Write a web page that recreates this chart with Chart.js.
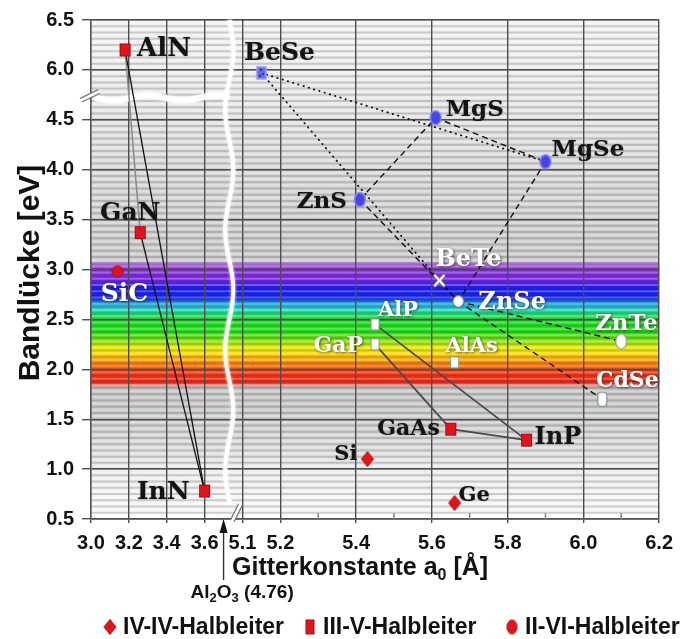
<!DOCTYPE html>
<html>
<head>
<meta charset="utf-8">
<title>Bandlücke vs. Gitterkonstante</title>
<script src="https://cdn.jsdelivr.net/npm/chart.js@4.4.1/dist/chart.umd.min.js"></script>
<style>
  body { margin: 0; background: #fff; }
</style>
</head>
<body>
<canvas id="gapChart" width="681" height="639"></canvas>
<script>
// values (lattice constant in Angstrom, band gap in eV)
const ivNames = ["SiC", "Si", "Ge"];
const ivLattice = [3.14, 5.43, 5.66];
const ivGap = [2.98, 1.10, 0.66];

const iiiVNames = ["AlN", "GaN", "InN", "AlP", "GaP", "AlAs", "GaAs", "InP"];
const iiiVLattice = [3.18, 3.26, 3.60, 5.45, 5.45, 5.66, 5.65, 5.85];
const iiiVGap = [6.20, 3.37, 0.78, 2.45, 2.25, 2.07, 1.40, 1.29];

const iiViNames = ["BeSe", "MgS", "MgSe", "ZnS", "BeTe", "ZnSe", "ZnTe", "CdSe"];
const iiViLattice = [5.15, 5.61, 5.90, 5.41, 5.62, 5.67, 6.10, 6.05];
const iiViGap = [5.97, 4.52, 4.08, 3.70, 2.89, 2.68, 2.28, 1.70];

const groupLabels = ["IV-IV-Halbleiter", "III-V-Halbleiter", "II-VI-Halbleiter"];

const xTickValues = [3.0, 3.2, 3.4, 3.6, 5.1, 5.2, 5.4, 5.6, 5.8, 6.0, 6.2];
const xMinorValues = [5.3, 5.5, 5.7, 5.9, 6.1];
const yTickValues = [0.5, 1.0, 1.5, 2.0, 2.5, 3.0, 3.5, 4.0, 4.5, 6.0, 6.5];

// alloy tie lines between compounds
const nitrideLinks = [["AlN", "InN"], ["GaN", "InN"]];
const alganLinks = [["AlN", "GaN"]];
const grayLinks = [["AlP", "InP"], ["GaP", "GaAs"], ["GaAs", "InP"]];
const dashedLinks = [["ZnS", "MgS"], ["MgS", "MgSe"], ["MgSe", "ZnSe"], ["ZnS", "ZnSe"], ["ZnSe", "ZnTe"], ["ZnSe", "CdSe"]];
const dottedLinks = [["BeSe", "MgSe"], ["BeSe", "BeTe"], ["BeTe", "ZnSe"]];

// visible spectrum band (eV) and its colours
const visibleTop = 3.08;
const visibleBottom = 1.81;
const bandColors = [
  [3.08, "#d4c0de"], [3.05, "#ad66dc"], [3.01, "#8a2ee0"], [2.91, "#7a20e4"],
  [2.85, "#4418ee"], [2.81, "#1414f4"], [2.71, "#1020f0"], [2.67, "#1890e0"],
  [2.61, "#22d0d0"], [2.55, "#14e070"], [2.51, "#10e020"], [2.37, "#20e010"],
  [2.29, "#80e010"], [2.23, "#d8ee00"], [2.17, "#ffe400"], [2.11, "#ffb000"],
  [2.05, "#ff7a00"], [2.00, "#ff4400"], [1.95, "#ff2a08"], [1.87, "#ee2012"],
  [1.83, "#d49890"], [1.81, "#c8c8c8"]
];
const grayColors = [
  [6.5, "#f4f4f4"], [6.0, "#eeeeee"], [4.5, "#e4e4e4"], [4.0, "#dadada"],
  [3.5, "#d1d1d1"], [3.1, "#cbcbcb"], [1.8, "#c6c6c6"], [1.5, "#cecece"],
  [1.2, "#dddddd"], [1.0, "#ececec"], [0.5, "#fbfbfb"]
];

// broken axes: x 3.0-3.6 | 5.1-6.2, y 0.5-4.5 | 6.0-6.5
function toX(a) { return a < 4.5 ? (a - 3.0) / 0.2 : 4 + (a - 5.1) / 0.1; }
function fromX(u) { return u <= 3.5 ? 3.0 + u * 0.2 : 5.1 + (u - 4) * 0.1; }
function toY(e) { return e > 5.25 ? e - 1 : e; }
function fromY(v) { return v > 4.75 ? v + 1 : v; }

const breakU = 3.65;     // white wavy cut on x
const arrowU = 3.5;      // Al2O3 marker in the gap
const breakV = 4.72;     // white cut on y

const RED = "#e2141b", RED_EDGE = "#a30d12";
const BLUE = "#4646e0", BLUE_EDGE = "#8a8af8";
const SANS = "'Liberation Sans', Arial, sans-serif";
const SERIF = "'DejaVu Serif', serif";

function makeMark(w, h, paint) {
  const c = document.createElement("canvas");
  c.width = w + 4;
  c.height = h + 4;
  const g = c.getContext("2d");
  g.translate(2, 2);
  paint(g, w, h);
  return c;
}
function oval(g, w, h, fill, edge, lw) {
  g.beginPath();
  g.ellipse(w / 2, h / 2, w / 2 - 0.5, h / 2 - 0.5, 0, 0, Math.PI * 2);
  g.fillStyle = fill;
  g.fill();
  g.lineWidth = lw;
  g.strokeStyle = edge;
  g.stroke();
}
function box(g, w, h, fill, edge) {
  g.fillStyle = fill;
  g.fillRect(0, 0, w, h);
  g.lineWidth = 1;
  g.strokeStyle = edge;
  g.strokeRect(0.5, 0.5, w - 1, h - 1);
}
function diamond(g, w, h) {
  g.beginPath();
  g.moveTo(w / 2, 0); g.lineTo(w, h / 2); g.lineTo(w / 2, h); g.lineTo(0, h / 2);
  g.closePath();
  g.fillStyle = RED; g.fill();
  g.strokeStyle = RED_EDGE; g.lineWidth = 1; g.stroke();
}

const marks = {
  redRect: makeMark(11, 13, (g, w, h) => box(g, w, h, RED, RED_EDGE)),
  whiteRect: makeMark(9, 12, (g, w, h) => box(g, w, h, "#ffffff", "#8c9a8c")),
  redDot: makeMark(12, 12, (g, w, h) => oval(g, w, h, RED, RED_EDGE, 1)),
  redDiamond: makeMark(12, 15, diamond),
  blueOval: makeMark(12, 15, (g, w, h) => oval(g, w, h, BLUE, BLUE_EDGE, 1.5)),
  blueBlob: makeMark(11, 14, (g, w, h) => {
    g.fillStyle = "#6a6ae6";
    g.fillRect(1, 1, w - 2, h - 2);
    g.strokeStyle = "#9a9af4"; g.lineWidth = 1.5; g.strokeRect(1, 1, w - 2, h - 2);
    g.fillStyle = "#3030a0";
    g.fillRect(4, 3, 2, 2); g.fillRect(6, 7, 2, 2); g.fillRect(3, 9, 2, 2);
  }),
  whiteCross: makeMark(11, 12, (g, w, h) => {
    g.lineCap = "round";
    g.strokeStyle = "#6a6a6a"; g.lineWidth = 4;
    g.beginPath(); g.moveTo(1, 1); g.lineTo(w - 1, h - 1); g.moveTo(w - 1, 1); g.lineTo(1, h - 1); g.stroke();
    g.strokeStyle = "#ffffff"; g.lineWidth = 2;
    g.beginPath(); g.moveTo(1, 1); g.lineTo(w - 1, h - 1); g.moveTo(w - 1, 1); g.lineTo(1, h - 1); g.stroke();
  }),
  whiteDot: makeMark(12, 13, (g, w, h) => oval(g, w, h, "#ffffff", "#6a6a7a", 1.2)),
  whiteOval: makeMark(12, 16, (g, w, h) => oval(g, w, h, "#ffffff", "#8a9a8a", 1.2)),
  whitePill: makeMark(10, 15, (g, w, h) => {
    g.beginPath();
    g.roundRect(0.5, 0.5, w - 1, h - 1, 3);
    g.fillStyle = "#ffffff"; g.fill();
    g.strokeStyle = "#7a8aa8"; g.lineWidth = 1.2; g.stroke();
  }),
  legendRect: makeMark(9, 15, (g, w, h) => box(g, w, h, RED, RED_EDGE)),
  legendOval: makeMark(11, 15, (g, w, h) => oval(g, w, h, RED, RED_EDGE, 1))
};

const markerOf = {
  SiC: "redDot", Si: "redDiamond", Ge: "redDiamond",
  AlN: "redRect", GaN: "redRect", InN: "redRect", GaAs: "redRect", InP: "redRect",
  AlP: "whiteRect", GaP: "whiteRect", AlAs: "whiteRect",
  BeSe: "blueBlob", MgS: "blueOval", MgSe: "blueOval", ZnS: "blueOval",
  BeTe: "whiteCross", ZnSe: "whiteDot", ZnTe: "whiteOval", CdSe: "whitePill"
};
const legendMarks = ["redDiamond", "legendRect", "legendOval"];
const legendX = [110, 310, 512];

// label placement relative to the marker
const labelStyle = {
  AlN: { dx: 12, dy: -3, align: "left", size: 26 },
  GaN: { dx: -10, dy: -22, align: "center", size: 25 },
  InN: { dx: -15, dy: -1, align: "right", size: 25 },
  AlP: { dx: 3, dy: -16, align: "left", size: 21, white: true },
  GaP: { dx: -12, dy: 0, align: "right", size: 22, white: true },
  AlAs: { dx: 17, dy: -18, align: "center", size: 21, white: true },
  GaAs: { dx: -11, dy: -2, align: "right", size: 22 },
  InP: { dx: 8, dy: -5, align: "left", size: 24 },
  SiC: { dx: 7, dy: 21, align: "center", size: 25, white: true },
  Si: { dx: -10, dy: -7, align: "right", size: 21 },
  Ge: { dx: 4, dy: -10, align: "left", size: 21 },
  BeSe: { dx: 18, dy: -22, align: "center", size: 25 },
  MgS: { dx: 10, dy: -10, align: "left", size: 23 },
  MgSe: { dx: 6, dy: -14, align: "left", size: 23 },
  ZnS: { dx: -13, dy: 0, align: "right", size: 23 },
  BeTe: { dx: 29, dy: -23, align: "center", size: 24, white: true },
  ZnSe: { dx: 20, dy: -1, align: "left", size: 24, white: true },
  ZnTe: { dx: 5, dy: -20, align: "center", size: 23, white: true },
  CdSe: { dx: 25, dy: -20, align: "center", size: 22, white: true }
};

const byName = {};
[[ivNames, ivLattice, ivGap], [iiiVNames, iiiVLattice, iiiVGap], [iiViNames, iiViLattice, iiViGap]]
  .forEach(([names, lat, gap]) => names.forEach((n, i) => { byName[n] = { x: toX(lat[i]), y: toY(gap[i]) }; }));

function groupSet(label, names) {
  return {
    label: label,
    names: names,
    data: names.map(n => byName[n]),
    pointStyle: c => marks[markerOf[names[c.dataIndex]]],
    pointRadius: 7,
    order: 0
  };
}
function linkSets(pairs, style) {
  return pairs.map(([a, b]) => Object.assign({
    data: [byName[a], byName[b]],
    showLine: true,
    pointRadius: 0,
    pointHoverRadius: 0,
    fill: false,
    order: 2
  }, style));
}

function wavyPath(ctx, from, to, base, amp, period, vertical) {
  ctx.beginPath();
  for (let t = from; t <= to; t += 2) {
    const off = base + amp * Math.sin((t - from) / period * Math.PI * 2);
    if (vertical) t === from ? ctx.moveTo(off, t) : ctx.lineTo(off, t);
    else t === from ? ctx.moveTo(t, off) : ctx.lineTo(t, off);
  }
  ctx.stroke();
}

function drawParts(ctx, parts, x, y) {
  // parts: [text, size, drop]
  for (const [txt, size, drop] of parts) {
    ctx.font = "bold " + size + "px " + SANS;
    ctx.fillText(txt, x, y + (drop || 0));
    x += ctx.measureText(txt).width;
  }
}

const backdrop = {
  id: "backdrop",
  beforeDraw(chart) {
    const { ctx, chartArea: a, scales: { x, y } } = chart;
    const h = a.bottom - a.top;
    const stop = e => Math.min(1, Math.max(0, (y.getPixelForValue(toY(e)) - a.top) / h));
    ctx.save();
    const gray = ctx.createLinearGradient(0, a.top, 0, a.bottom);
    grayColors.forEach(([e, c]) => gray.addColorStop(stop(e), c));
    ctx.fillStyle = gray;
    ctx.fillRect(a.left, a.top, a.right - a.left, h);

    const yt = y.getPixelForValue(visibleTop), yb = y.getPixelForValue(visibleBottom);
    const band = ctx.createLinearGradient(0, yt, 0, yb);
    bandColors.forEach(([e, c]) => band.addColorStop((y.getPixelForValue(e) - yt) / (yb - yt), c));
    ctx.fillStyle = band;
    ctx.fillRect(a.left, yt, a.right - a.left, yb - yt);

    // fine horizontal ruling
    ctx.lineWidth = 2;
    for (let v = y.min; v <= y.max + 1e-6; v += 0.0625) {
      const p = y.getPixelForValue(v);
      ctx.strokeStyle = "rgba(70,70,70,0.24)";
      ctx.beginPath(); ctx.moveTo(a.left, p); ctx.lineTo(a.right, p); ctx.stroke();
      const q = y.getPixelForValue(v + 0.03125);
      if (q > a.top) {
        ctx.strokeStyle = "rgba(255,255,255,0.28)";
        ctx.beginPath(); ctx.moveTo(a.left, q); ctx.lineTo(a.right, q); ctx.stroke();
      }
    }
    ctx.restore();
  },
  beforeDatasetsDraw(chart) {
    const { ctx, chartArea: a, scales: { x, y } } = chart;
    const bx = x.getPixelForValue(breakU);
    ctx.save();
    ctx.strokeStyle = "rgba(255,255,255,0.95)";
    ctx.shadowColor = "rgba(255,255,255,0.9)";
    ctx.shadowBlur = 3;
    ctx.lineWidth = 4;
    wavyPath(ctx, a.top, a.bottom - 14, bx, 4, 120, true);
    ctx.lineWidth = 6;
    wavyPath(ctx, a.left + 4, bx, y.getPixelForValue(breakV), 2.5, 70, false);
    ctx.restore();

    // minor ticks on the bottom axis
    ctx.save();
    ctx.strokeStyle = "#8a8a8a";
    ctx.lineWidth = 1.5;
    xMinorValues.forEach(v => {
      const p = x.getPixelForValue(toX(v));
      ctx.beginPath(); ctx.moveTo(p, a.bottom); ctx.lineTo(p, a.bottom - 6); ctx.stroke();
    });
    ctx.restore();
  },
  afterDatasetsDraw(chart) {
    const ctx = chart.ctx;
    ctx.save();
    ctx.textBaseline = "alphabetic";
    chart.data.datasets.forEach((ds, di) => {
      if (!ds.names) return;
      const meta = chart.getDatasetMeta(di);
      ds.names.forEach((n, i) => {
        const s = labelStyle[n];
        const pt = meta.data[i];
        ctx.font = "bold " + s.size + "px " + SERIF;
        ctx.textAlign = s.align;
        const tx = pt.x + s.dx, ty = pt.y + s.dy + s.size * 0.36;
        if (s.white) {
          ctx.shadowColor = "rgba(40,40,40,0.75)";
          ctx.shadowBlur = 3;
          ctx.shadowOffsetX = 1;
          ctx.shadowOffsetY = 1;
          ctx.fillStyle = "#ffffff";
        } else {
          ctx.shadowColor = "rgba(0,0,0,0.35)";
          ctx.shadowBlur = 1.5;
          ctx.shadowOffsetX = 0;
          ctx.shadowOffsetY = 0;
          ctx.fillStyle = "#141414";
        }
        ctx.fillText(n, tx, ty);
      });
    });
    ctx.restore();
  },
  afterDraw(chart) {
    const { ctx, chartArea: a, scales: { x, y } } = chart;
    ctx.save();
    ctx.fillStyle = "#111";
    ctx.textBaseline = "alphabetic";
    ctx.textAlign = "left";

    // axis titles
    drawParts(ctx, [["Gitterkonstante a", 25], ["0", 16, 5], [" [Å]", 25]], a.left + 141, 575);
    ctx.save();
    ctx.translate(39, 273);
    ctx.rotate(-Math.PI / 2);
    ctx.textAlign = "center";
    ctx.font = "bold 30px " + SANS;
    ctx.fillText("Bandlücke [eV]", 0, 0);
    ctx.restore();

    // break marks on both axes
    const slash = (cx, cy, ang, len, gap) => {
      ctx.save();
      ctx.translate(cx, cy);
      ctx.rotate(ang);
      ctx.fillStyle = "#ffffff";
      ctx.fillRect(-len / 2, -gap / 2, len, gap);
      ctx.strokeStyle = "#7a7a7a";
      ctx.lineWidth = 1.3;
      ctx.beginPath();
      ctx.moveTo(-len / 2, -gap / 2); ctx.lineTo(len / 2, -gap / 2);
      ctx.moveTo(-len / 2, gap / 2); ctx.lineTo(len / 2, gap / 2);
      ctx.stroke();
      ctx.restore();
    };
    slash(a.left - 1, y.getPixelForValue(breakV) - 2, -0.45, 20, 4);
    slash(x.getPixelForValue(breakU) + 7, a.bottom - 6, -1.1, 18, 4);

    // Al2O3 pointer
    const ax = x.getPixelForValue(arrowU);
    ctx.strokeStyle = "#333";
    ctx.lineWidth = 1.4;
    ctx.beginPath(); ctx.moveTo(ax, a.bottom + 10); ctx.lineTo(ax, 580); ctx.stroke();
    ctx.fillStyle = "#111";
    ctx.beginPath();
    ctx.moveTo(ax, a.bottom); ctx.lineTo(ax + 4, a.bottom + 14); ctx.lineTo(ax - 4, a.bottom + 14);
    ctx.closePath(); ctx.fill();
    drawParts(ctx, [["Al", 19], ["2", 13, 4], ["O", 19], ["3", 13, 4], [" (4.76)", 19]], ax - 33, 598);

    // legend
    ctx.font = "bold 23px " + SANS;
    ctx.textBaseline = "middle";
    groupLabels.forEach((lab, i) => {
      const m = marks[legendMarks[i]];
      ctx.drawImage(m, legendX[i] - m.width / 2, 627 - m.height / 2);
      ctx.fillText(lab, legendX[i] + 13, 628);
    });
    ctx.restore();
  }
};

Chart.defaults.font.family = SANS;
Chart.defaults.color = "#111";

new Chart(document.getElementById("gapChart"), {
  type: "scatter",
  data: {
    datasets: [
      groupSet(groupLabels[0], ivNames),
      groupSet(groupLabels[1], iiiVNames),
      groupSet(groupLabels[2], iiViNames)
    ]
      .concat(linkSets(nitrideLinks, { borderColor: "#111", borderWidth: 1.3 }))
      .concat(linkSets(alganLinks, { borderColor: "#8a8a8a", borderWidth: 1.5 }))
      .concat(linkSets(grayLinks, { borderColor: "#4a4a4a", borderWidth: 1.8 }))
      .concat(linkSets(dashedLinks, { borderColor: "#111", borderWidth: 1.4, borderDash: [6, 4] }))
      .concat(linkSets(dottedLinks, { borderColor: "#111", borderWidth: 1.8, borderDash: [0.5, 5], borderCapStyle: "round" }))
  },
  options: {
    responsive: false,
    animation: false,
    devicePixelRatio: 1,
    layout: { padding: { top: 18, right: 16, left: 0, bottom: 0 } },
    plugins: { legend: { display: false }, tooltip: { enabled: false } },
    scales: {
      x: {
        type: "linear",
        min: 0,
        max: 15,
        afterBuildTicks: s => { s.ticks = xTickValues.map(v => ({ value: toX(v) })); },
        afterFit: s => { s.height = 120; },
        ticks: {
          autoSkip: false,
          maxRotation: 0,
          padding: 8,
          color: "#111",
          font: { size: 20, weight: "bold" },
          callback: v => fromX(v).toFixed(1)
        },
        grid: { color: "#4e4e4e", lineWidth: 1.4, tickLength: 4 },
        border: { color: "#555", width: 1.4 }
      },
      y: {
        type: "linear",
        min: 0.5,
        max: 5.5,
        afterBuildTicks: s => { s.ticks = yTickValues.map(v => ({ value: toY(v) })); },
        afterFit: s => { s.width = 91; },
        ticks: {
          padding: 8,
          color: "#111",
          font: { size: 20, weight: "bold" },
          callback: v => fromY(v).toFixed(1)
        },
        grid: { color: "#4e4e4e", lineWidth: 1.4, tickLength: 9 },
        border: { color: "#555", width: 1.4 }
      }
    }
  },
  plugins: [backdrop]
});
</script>
</body>
</html>
